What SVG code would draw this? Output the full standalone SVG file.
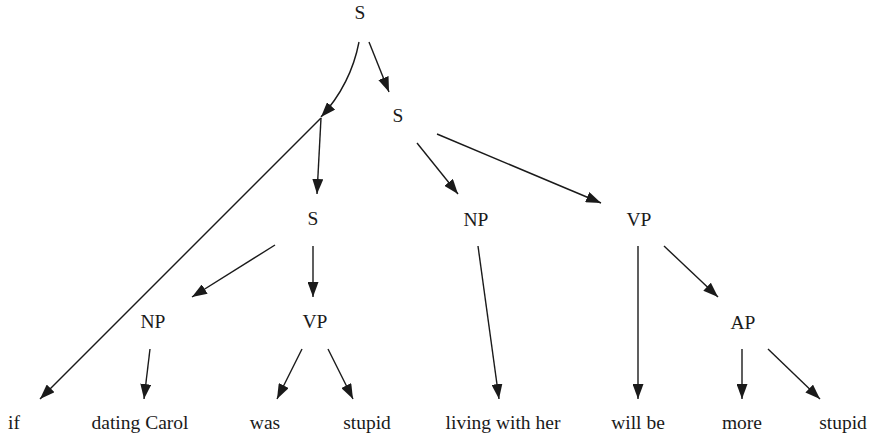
<svg xmlns="http://www.w3.org/2000/svg" width="874" height="438" viewBox="0 0 874 438">
<defs>
<marker id="arr" markerUnits="userSpaceOnUse" markerWidth="16" markerHeight="11" refX="15" refY="5.5" orient="auto">
<path d="M0,0 L15,5.5 L0,11 z" fill="#1a1a1a"/>
</marker>
<style>
text{font-family:"Liberation Serif","Times New Roman",Times,serif;font-size:19.5px;fill:#1a1a1a;text-anchor:middle}
.e{stroke:#1a1a1a;stroke-width:1.4;fill:none}
.a{marker-end:url(#arr)}
</style>
</defs>
<rect width="874" height="438" fill="#ffffff"/>
<g id="connectors">
<path class="e a" d="M359,42 C354,68 342,94 321,117"/>
<path class="e a" d="M369,42 L389,92"/>
<path class="e a" d="M321,118 L40,399"/>
<path class="e a" d="M321,118 L317,194"/>
<path class="e a" d="M275,245 L192,297"/>
<path class="e a" d="M313,246 L313,297"/>
<path class="e a" d="M150,349 L144,399"/>
<path class="e a" d="M302,349 L277,399"/>
<path class="e a" d="M328,349 L353,399"/>
<path class="e a" d="M417,143 L458,194"/>
<path class="e a" d="M437,134 L601,203"/>
<path class="e a" d="M478,246 L499,399"/>
<path class="e a" d="M638,246 L638,399"/>
<path class="e a" d="M664,246 L718,297"/>
<path class="e a" d="M742,349 L742,399"/>
<path class="e a" d="M768,349 L820,399"/>
</g>
<g id="n_S_root"><text x="360" y="19">S</text></g>
<g id="n_S2"><text x="398" y="122">S</text></g>
<g id="n_S_mid"><text x="313" y="225">S</text></g>
<g id="n_NP_living"><text x="476" y="226">NP</text></g>
<g id="n_VP_will"><text x="639" y="226">VP</text></g>
<g id="n_NP_dating"><text x="153" y="328">NP</text></g>
<g id="n_VP_was"><text x="315" y="328">VP</text></g>
<g id="n_AP"><text x="743" y="329">AP</text></g>
<g id="n_if"><text x="14" y="429">if</text></g>
<g id="n_dating"><text x="140" y="429">dating Carol</text></g>
<g id="n_was"><text x="265" y="429">was</text></g>
<g id="n_stupid1"><text x="367" y="429">stupid</text></g>
<g id="n_living"><text x="503" y="429">living with her</text></g>
<g id="n_willbe"><text x="638" y="429">will be</text></g>
<g id="n_more"><text x="742" y="429">more</text></g>
<g id="n_stupid2"><text x="843" y="429">stupid</text></g>
</svg>
